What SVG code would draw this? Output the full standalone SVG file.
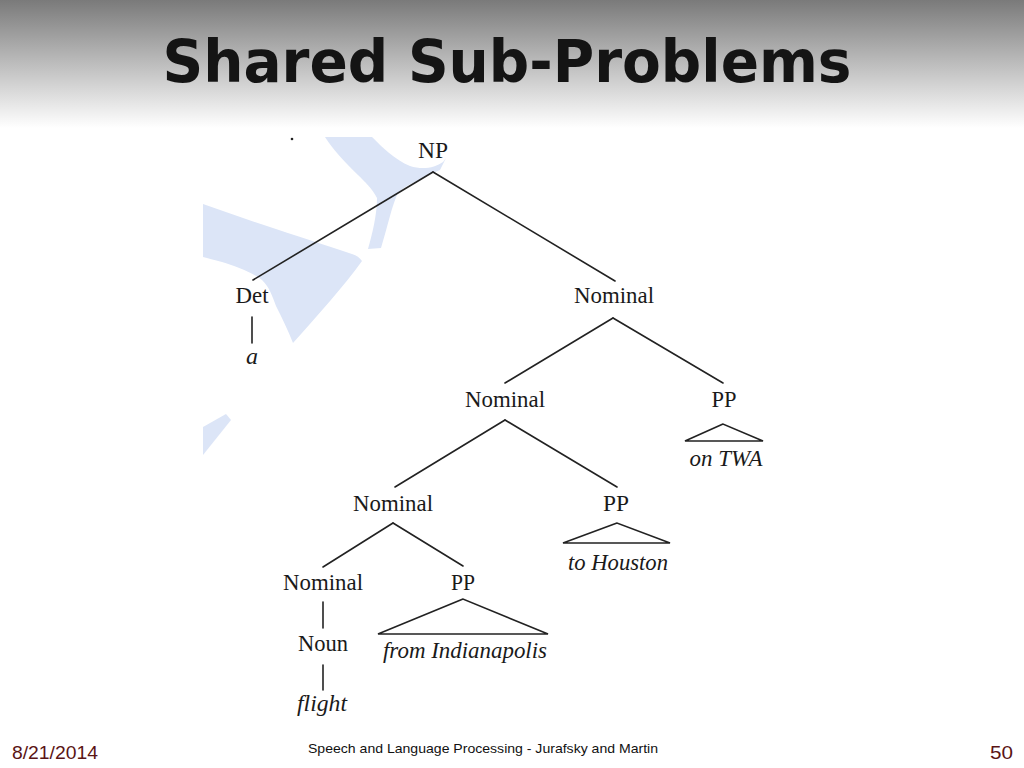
<svg xmlns="http://www.w3.org/2000/svg" width="1024" height="768" viewBox="0 0 1024 768">
<defs>
<linearGradient id="hdr" x1="0" y1="0" x2="0" y2="1">
<stop offset="0" stop-color="#7a7a7a"/>
<stop offset="0.5" stop-color="#bdbdbd"/>
<stop offset="1" stop-color="#ffffff"/>
</linearGradient>
<style>
.lbl{font-family:"Liberation Serif","Times New Roman",serif;font-size:24px;fill:#1a1a1a;text-anchor:middle}
.it{font-family:"Liberation Serif","Times New Roman",serif;font-size:24px;font-style:italic;fill:#1a1a1a;text-anchor:middle}
.edge{stroke:#222;stroke-width:1.6;fill:none;stroke-linecap:round}
.wm{fill:#dce5f7}
.foot{font-family:"Liberation Sans",Arial,sans-serif;fill:#5a1414}
</style>
</defs>
<rect width="1024" height="768" fill="#ffffff"/>
<rect x="0" y="0" width="1024" height="128" fill="url(#hdr)"/>
<text x="507" y="82" font-family="'DejaVu Sans',Verdana,sans-serif" font-weight="bold" font-size="58" fill="#141414" text-anchor="middle" textLength="689" lengthAdjust="spacingAndGlyphs">Shared Sub-Problems</text>

<g id="watermark">
<path class="wm" d="M325,137 L372,137 C382,147 395,160 410,166 C422,170 435,168 443,162 L446,158 L440,170 L433,173 C420,180 405,185 398,193 C392,205 388,225 381,248 L368,249 C372,235 377,215 377,198 C372,188 365,182 358,175 C345,162 333,150 325,137 Z"/>
<path class="wm" d="M203,204 C250,221 300,237 340,250 C352,254 358,255 362,261 C345,285 318,315 293,343 C288,330 282,318 276,306 C272,296 270,288 262,280 C252,272 235,266 222,262 C214,260 208,258 203,257 Z"/>
<path class="wm" d="M203,427 L226,414 L231,420 L203,455 Z"/>
<circle cx="292" cy="139" r="1.3" fill="#222"/>
</g>

<g id="connectors">
<line class="edge" x1="433" y1="172" x2="253" y2="280"/>
<line class="edge" x1="433" y1="172" x2="615" y2="281"/>
<line class="edge" x1="252" y1="317" x2="252" y2="343"/>
<line class="edge" x1="613" y1="318" x2="505" y2="383"/>
<line class="edge" x1="613" y1="318" x2="723" y2="383"/>
<polygon class="edge" points="723,424 685,441 763,441"/>
<line class="edge" x1="505" y1="420" x2="395" y2="487"/>
<line class="edge" x1="505" y1="420" x2="617" y2="487"/>
<polygon class="edge" points="617,523 563,543 670,543"/>
<line class="edge" x1="393" y1="523" x2="323" y2="567"/>
<line class="edge" x1="393" y1="523" x2="463" y2="566"/>
<polygon class="edge" points="463,599 378,634 548,634"/>
<line class="edge" x1="323" y1="602" x2="323" y2="628"/>
<line class="edge" x1="323" y1="665" x2="323" y2="690"/>
</g>

<g id="n-np"><text class="lbl" x="433" y="158" textLength="30" lengthAdjust="spacingAndGlyphs">NP</text></g>
<g id="n-det"><text class="lbl" x="252" y="303" textLength="33" lengthAdjust="spacingAndGlyphs">Det</text></g>
<g id="n-a"><text class="it" x="252" y="364">a</text></g>
<g id="n-nominal1"><text class="lbl" x="614" y="303" textLength="80" lengthAdjust="spacingAndGlyphs">Nominal</text></g>
<g id="n-nominal2"><text class="lbl" x="505" y="407" textLength="80" lengthAdjust="spacingAndGlyphs">Nominal</text></g>
<g id="n-pp1"><text class="lbl" x="724" y="407" textLength="25" lengthAdjust="spacingAndGlyphs">PP</text></g>
<g id="n-ontwa"><text class="it" x="726" y="466" textLength="73" lengthAdjust="spacingAndGlyphs">on TWA</text></g>
<g id="n-nominal3"><text class="lbl" x="393" y="511" textLength="80" lengthAdjust="spacingAndGlyphs">Nominal</text></g>
<g id="n-pp2"><text class="lbl" x="616" y="511" textLength="26" lengthAdjust="spacingAndGlyphs">PP</text></g>
<g id="n-tohouston"><text class="it" x="618" y="570" textLength="100" lengthAdjust="spacingAndGlyphs">to Houston</text></g>
<g id="n-nominal4"><text class="lbl" x="323" y="590" textLength="80" lengthAdjust="spacingAndGlyphs">Nominal</text></g>
<g id="n-pp3"><text class="lbl" x="463" y="590" textLength="24" lengthAdjust="spacingAndGlyphs">PP</text></g>
<g id="n-fromindy"><text class="it" x="465" y="658" textLength="164" lengthAdjust="spacingAndGlyphs">from Indianapolis</text></g>
<g id="n-noun"><text class="lbl" x="323" y="651" textLength="50" lengthAdjust="spacingAndGlyphs">Noun</text></g>
<g id="n-flight"><text class="it" x="322" y="711" textLength="50" lengthAdjust="spacingAndGlyphs">flight</text></g>

<g id="footer">
<text class="foot" x="12" y="759" font-size="19" textLength="86" lengthAdjust="spacingAndGlyphs">8/21/2014</text>
<text x="483" y="753" font-family="'Liberation Sans',Arial,sans-serif" font-size="13" fill="#111" text-anchor="middle" textLength="350" lengthAdjust="spacingAndGlyphs">Speech and Language Processing - Jurafsky and Martin</text>
<text class="foot" x="1013" y="759" font-size="19" text-anchor="end" textLength="23" lengthAdjust="spacingAndGlyphs">50</text>
</g>
</svg>
